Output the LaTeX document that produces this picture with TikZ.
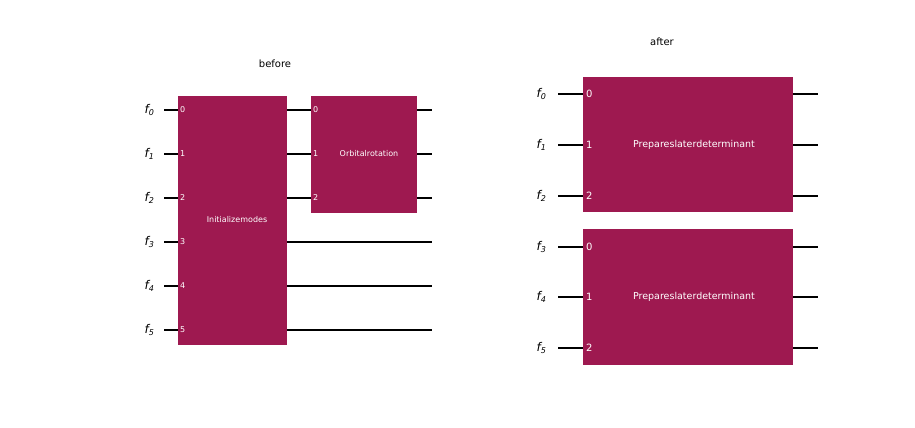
\documentclass[tikz,border=0pt]{standalone}
\usepackage{fontspec}
\setmainfont{DejaVu Sans}
\begin{document}
\begin{tikzpicture}[x=1pt,y=-1pt,
  gate/.style={draw=none,fill=gatec},
  wire/.style={line width=1.1pt,black},
  lab/.style={font=\fontsize{12}{12}\selectfont},
  port/.style={font=\fontsize{8}{8}\selectfont,text=white,anchor=west,inner sep=1pt},
  rport/.style={font=\fontsize{10}{10}\selectfont,text=white,anchor=west,inner sep=1pt},
  gtext/.style={font=\fontsize{8}{8}\selectfont,text=white},
  title/.style={font=\fontsize{10}{10}\selectfont}]
\definecolor{gatec}{HTML}{9E1950}
\useasboundingbox (0,0) rectangle (915,428);
% before
\node[title] (tb) at (275,64) {before};
\foreach \i/\y in {0/110,1/154,2/198,3/242,4/286,5/330}{
  \node[lab,anchor=east] (l\i) at (158,\y) {\itshape f\textsubscript{\i}};
}
\foreach \y in {110,154,198}{
  \draw[wire] (164,\y) -- (178,\y);
  \draw[wire] (287,\y) -- (311,\y);
  \draw[wire] (417,\y) -- (432,\y);
}
\foreach \y in {242,286,330}{
  \draw[wire] (164,\y) -- (178,\y);
  \draw[wire] (287,\y) -- (432,\y);
}
\fill[gatec] (178,96) rectangle (287,345);
\node[gtext] (im) at (237,220) {Initializemodes};
\foreach \i/\y in {0/110,1/154,2/198,3/242,4/286,5/330}{
  \node[port] (pi\i) at (179,\y) {\i};
}
\fill[gatec] (311,96) rectangle (417,213);
\node[gtext] (orr) at (369,154) {Orbitalrotation};
\foreach \i/\y in {0/110,1/154,2/198}{
  \node[port] (po\i) at (312,\y) {\i};
}
% after
\node[title] (ta) at (662,42) {after};
\foreach \i/\y in {0/94,1/145,2/196,3/247,4/297,5/348}{
  \node[lab,anchor=east] (r\i) at (550,\y) {\itshape f\textsubscript{\i}};
  \draw[wire] (558,\y) -- (583,\y);
  \draw[wire] (793,\y) -- (818,\y);
}
\fill[gatec] (583,77) rectangle (793,212);
\fill[gatec] (583,229) rectangle (793,365);
\node[gtext,font=\fontsize{9.5}{9.5}\selectfont] (p1) at (694,145) {Prepareslaterdeterminant};
\node[gtext,font=\fontsize{9.5}{9.5}\selectfont] (p2) at (694,297) {Prepareslaterdeterminant};
\foreach \i/\y in {0/94,1/145,2/196}{ \node[rport] (a\i) at (585,\y) {\i}; }
\foreach \i/\y in {0/247,1/297,2/348}{ \node[rport] (b\i) at (585,\y) {\i}; }
\end{tikzpicture}
\end{document}
